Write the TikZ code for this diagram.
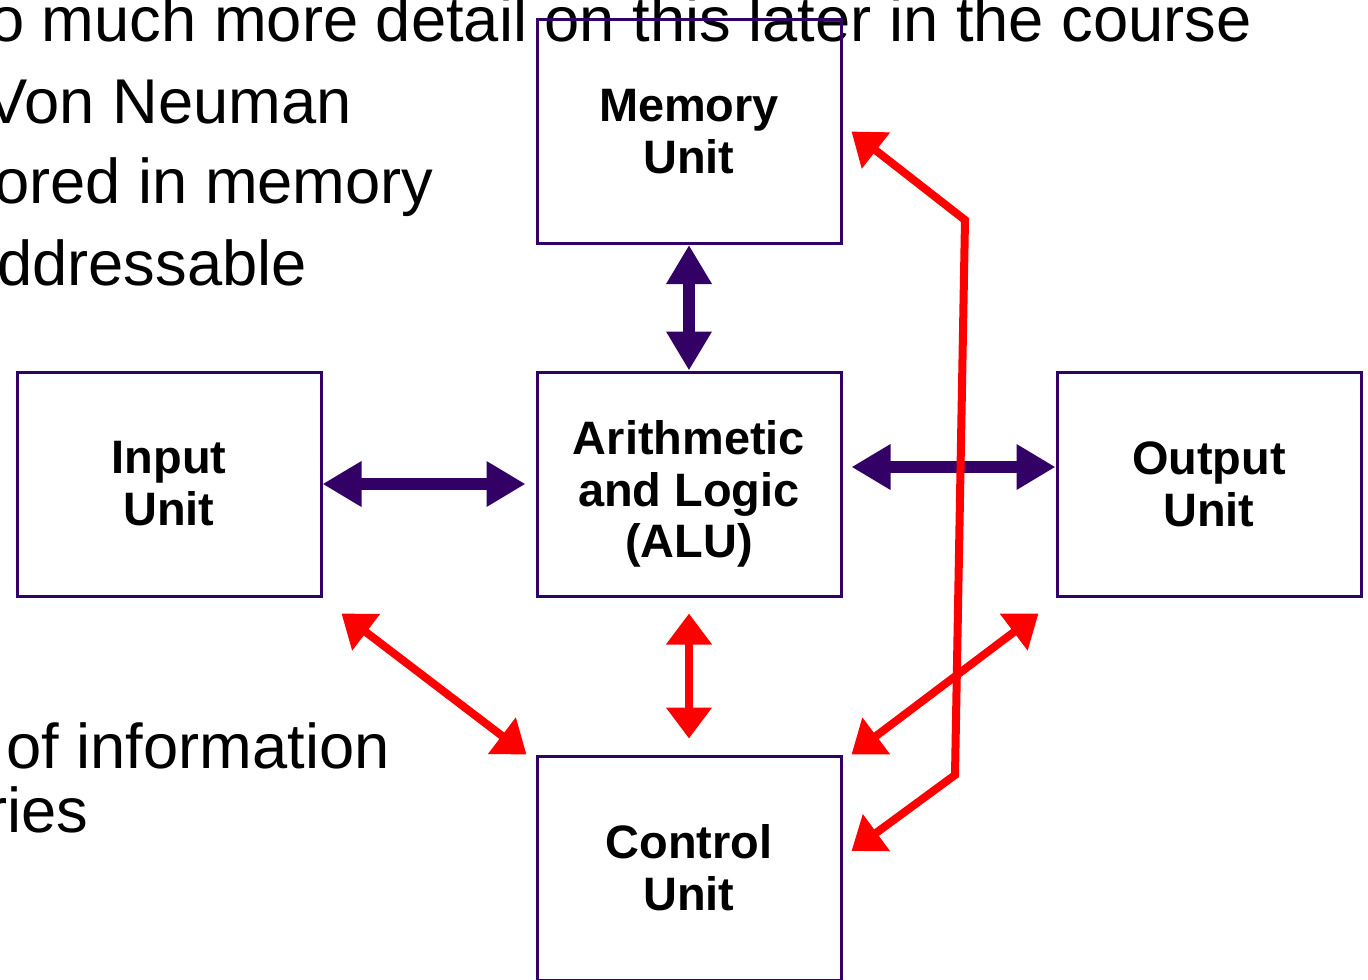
\documentclass[tikz,border=0pt]{standalone}
\usepackage{fontspec}
\setmainfont{Liberation Sans}
\usetikzlibrary{arrows.meta}
\definecolor{unitpurple}{RGB}{51,0,102}
\definecolor{sigred}{RGB}{255,0,0}
\tikzset{
	unittext/.style={align=center, inner sep=0pt, font=\fontsize{26.7}{29.5}\selectfont\bfseries},
	unit/.style={unittext, draw=unitpurple, line width=0.06cm, minimum width=6.08cm, minimum height=4.48cm},
	bus/.style={unitpurple, line width=0.24cm, >={Triangle[width=0.86cm,length=0.78cm]}, <->},
	sig/.style={sigred, line width=0.16cm, >={Triangle[width=0.88cm,length=0.62cm]}, <->},
	slide/.style={anchor=base east, inner sep=0pt, font=\fontsize{36}{40}\selectfont}
}
\begin{document}
\begin{tikzpicture}
			\useasboundingbox (0,0) rectangle (27.36,-19.6);
			\clip (0,0) rectangle (27.36,-19.6);
			% slide text behind the diagram
			\node[slide] (l1) at (25.04,-0.84) {o much more detail on this later in the course};
			\node[slide] (l2) at (7.04,-2.46) {Von Neuman};
			\node[slide] (l3) at (8.68,-4.06) {ored in memory};
			\node[slide] (l4) at (6.14,-5.7) {ddressable};
			\node[slide] (l5) at (7.8,-15.36) {of information};
			\node[slide] (l6) at (1.78,-16.64) {ries};
			% units
			\node[unit] (mem) at (13.78,-2.63) {Memory\\Unit};
			\node[unit] (inp) at (3.38,-9.68) {Input\\Unit};
			\node[unit, label={[unittext, yshift=-0.2cm]center:Arithmetic\\and Logic\\(ALU)}] (alu) at (13.78,-9.68) {};
			\node[unit] (outp) at (24.18,-9.68) {Output\\Unit};
			\node[unit] (ctrl) at (13.78,-17.36) {Control\\Unit};
			% data paths
			\draw[bus] (mem) -- (alu);
			\draw[bus, shorten >=0.2cm] (inp) -- (alu);
			\draw[bus, shorten <=0.18cm] ([yshift=0.34cm]alu.east) -- ([yshift=0.34cm]outp.west);
			% control paths
			\draw[sig, shorten <=0.32cm, shorten >=0.32cm] (alu) -- (ctrl);
			\draw[sig] ([shift={(0.38,-0.32)}]inp.south east) -- ([xshift=-0.18cm]ctrl.north west);
			\draw[sig] ([shift={(-0.34,-0.32)}]outp.south west) -- ([xshift=0.18cm]ctrl.north east);
			\draw[sig] ([xshift=0.18cm]mem.east) -- (19.3,-4.4) -- (19.1,-15.5) -- ([shift={(0.18,0.34)}]ctrl.east);
		\end{tikzpicture}
\end{document}
